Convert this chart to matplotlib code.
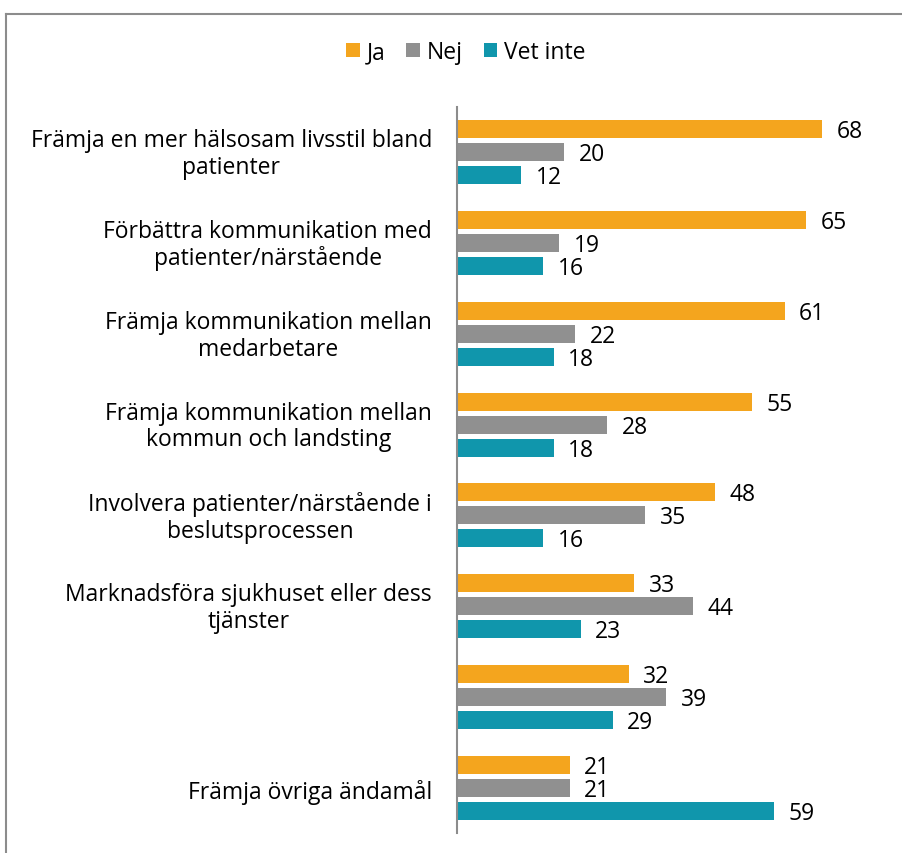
import matplotlib
matplotlib.use("Agg")
import matplotlib.pyplot as plt
import matplotlib.transforms as mtransforms
import numpy as np
from matplotlib.lines import Line2D
from matplotlib.patches import Patch

plt.rcParams['font.family'] = ['Open Sans', 'DejaVu Sans']

categories = [
    "Främja en mer hälsosam livsstil bland\npatienter",
    "Förbättra kommunikation med\npatienter/närstående",
    "Främja kommunikation mellan\nmedarbetare",
    "Främja kommunikation mellan\nkommun och landsting",
    "Involvera patienter/närstående i\nbeslutsprocessen",
    "Marknadsföra sjukhuset eller dess\ntjänster",
    "",
    "Främja övriga ändamål",
]
series_names = ["Ja", "Nej", "Vet inte"]
ja = [68, 65, 61, 55, 48, 33, 32, 21]
nej = [20, 19, 22, 28, 35, 44, 39, 21]
vet_inte = [12, 16, 18, 18, 16, 23, 29, 59]
colors = ["#F4A51E", "#909090", "#1096AC"]

W, H = 903, 854
fig = plt.figure(figsize=(W / 100, H / 100), dpi=100)
ax_left = 457 / W
ax_right = 900 / W
ax_top = 1 - 108 / H
ax_bot = 1 - 834 / H
ax = fig.add_axes([ax_left, ax_bot, ax_right - ax_left, ax_top - ax_bot])

n = len(categories)
y = np.arange(n)
pitch = 0.253
bh = 0.198
fs = 16.5
for i, (vals, c) in enumerate(zip([ja, nej, vet_inte], colors)):
    pos = y + (i - 1) * pitch
    bars = ax.barh(pos, vals, height=bh, color=c, label=series_names[i])
    for b, v in zip(bars, vals):
        ax.annotate(str(v), (b.get_width(), b.get_y() + b.get_height() / 2),
                    xytext=(10.5, -1.5), textcoords='offset points',
                    ha='left', va='center', fontsize=fs, color='black')

xmax = (900 - 457) / 5.37
ax.set_xlim(0, xmax)
ax.set_ylim(n - 0.5, -0.5)
ax.set_yticks(y)
ax.set_yticklabels(categories, fontsize=fs, multialignment='center', linespacing=1.15)
ax.tick_params(axis='y', length=0, pad=18)
ax.set_xticks([])
shift_up = mtransforms.ScaledTranslation(0, 3 / 100, fig.dpi_scale_trans)
shift_down = mtransforms.ScaledTranslation(0, -1 / 100, fig.dpi_scale_trans)
for lbl in ax.get_yticklabels():
    if "\n" in lbl.get_text():
        lbl.set_transform(lbl.get_transform() + shift_up)
    else:
        lbl.set_transform(lbl.get_transform() + shift_down)
for s in ['top', 'right', 'bottom']:
    ax.spines[s].set_visible(False)
ax.spines['left'].set_color('#8C8C8C')
ax.spines['left'].set_linewidth(1.5)

handles = [Patch(facecolor=c, edgecolor='none') for c in colors]
fig.legend(handles, series_names, loc='center', bbox_to_anchor=(466 / W, 1 - 53 / H),
           ncol=3, frameon=False, fontsize=fs, handlelength=0.6, handleheight=0.6,
           handletextpad=0.3, columnspacing=0.9)

# outer border (left and top visible)
bx, by = 5.5 / W, 1 - 14.5 / H
fig.add_artist(Line2D([bx, bx], [0, by], transform=fig.transFigure, color='#8C8C8C', lw=1.5))
fig.add_artist(Line2D([bx, 1], [by, by], transform=fig.transFigure, color='#8C8C8C', lw=1.5))

fig.savefig("out.png", dpi=100)
